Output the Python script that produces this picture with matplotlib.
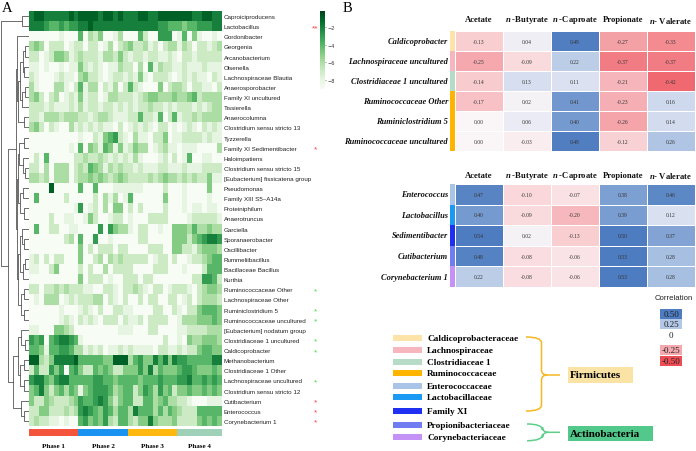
import matplotlib

matplotlib.use("Agg")
import matplotlib.pyplot as plt
import numpy as np
from matplotlib.colors import LinearSegmentedColormap
from matplotlib.patches import Rectangle, PathPatch
from matplotlib.path import Path

plt.rcParams["mathtext.fontset"] = "custom"
plt.rcParams["mathtext.it"] = "Liberation Serif:italic:bold"
plt.rcParams["mathtext.rm"] = "Liberation Serif:bold"

W, H = 696, 452
SERIF = "Liberation Serif"
SANS = "Liberation Sans"

# ---------------- panel A data ----------------
genera = [
    "Caproiciproducens", "Lactobacillus", "Gordonibacter", "Georgenia", "Arcanobacterium",
    "Olsenella", "Lachnospiraceae Blautia", "Anaerosporobacter", "Family XI uncultured",
    "Tissierella", "Anaerocolumna", "Clostridium sensu stricto 13", "Tyzzerella",
    "Family XI Sedimentibacter", "Haloimpatiens", "Clostridium sensu stricto 15",
    "[Eubacterium] fissicatena group", "Pseudomonas", "Family XIII S5\u2013A14a",
    "Proteiniphilum", "Anaerotruncus", "Garciella", "Sporanaerobacter", "Oscillibacter",
    "Rummeliibacillus", "Bacillaceae Bacillus", "Kurthia", "Ruminococcaceae Other",
    "Lachnospiraceae Other", "Ruminiclostridium 5", "Ruminococcaceae uncultured",
    "[Eubacterium] nodatum group", "Clostridiaceae 1 uncultured", "Caldicoprobacter",
    "Methanobacterium", "Clostridiaceae 1 Other", "Lachnospiraceae uncultured",
    "Clostridium sensu stricto 12", "Cutibacterium", "Enterococcus", "Corynebacterium 1",
]

# log abundance per sample, one digit per sample: value = digit - 9
abundance_rows = [
    "7887777787 8888788787 7788778888 888778877",
    "7776556566 7787777777 7777776655 545566677",
    "0000001000 5032400130 0052006660 150410010",
    "3430222012 2022013023 4223120233 132022123",
    "2201244312 3222133242 1221221121 022122222",
    "1101001011 4212101132 2030513221 121112111",
    "2100012110 3422101221 2141022210 121211021",
    "3100033102 5133021302 5210004023 320221102",
    "3420230121 4122013322 2123443334 334523333",
    "2221211121 3122122121 2122322121 222121233",
    "2213332333 2212332111 2252215025 122323333",
    "3420210031 2121211020 1212102201 012102121",
    "0000000000 1002145621 0311022401 122221211",
    "0000000010 5043154141 2433012311 011100003",
    "0205000002 2322321212 1310001202 015001100",
    "2203033302 3254313232 2121112211 121112222",
    "3323033302 3343432343 2222323433 232322411",
    "0000800000 5005000111 1110000200 010000400",
    "0500000200 0002031301 5000000400 010000100",
    "0000000001 6012030440 2020000200 010110110",
    "0000200110 0142001220 1000222200 001222221",
    "0500220011 0000606433 1022001004 443533433",
    "0000000230 5006001000 0022000004 442456776",
    "0000000000 4020222022 0000222004 422134443",
    "1202022000 4002303232 2222012202 001223455",
    "1100240000 2020030222 2000022200 010002555",
    "0000000000 4022201002 2202200000 000226652",
    "2202232322 2110022102 2321022012 221023443",
    "0103330121 2223302102 0020220022 012023332",
    "0000001000 1210200221 1000022002 102245554",
    "0000001210 2121022202 1120222200 133344454",
    "1100044320 0000000011 1000220000 112222333",
    "6560567765 1000000000 0000000200 104334443",
    "5541556653 3121201121 2111102211 212245544",
    "8832477778 5555544888 3564475747 665555577",
    "2522646056 4225454224 4464735444 566544454",
    "6775467755 5556655455 5545556555 667556565",
    "4574245354 1456665345 5246536452 445445454",
    "4224322234 6556764245 5225534533 221000111",
    "2244222323 6765465355 3755535354 322255555",
    "2322110100 5645463255 3244743334 222245454",
]

red, green = "#ff3b3b", "#3ddc3d"
marks = {1: ("**", red), 13: ("*", red), 27: ("*", green), 29: ("*", green),
         30: ("*", green), 32: ("*", green), 33: ("*", green), 36: ("*", green),
         38: ("*", red), 39: ("*", red), 40: ("*", red)}

# dendrogram: (height, left, right), leaves are row indices
tree = (28, (7, 0, 1),
        (21,
         (13, (12, 2, (10.5, (9, (6, (4, 3, 4), (4.5, 5, 6)), (6.5, (3.5, 7, 8), 9)), (5, 10, 11))),
          (12, (11, (9.5, (5, 12, 13), (6, 14, (4, 15, 16))), (8.5, (6, 17, 18), (5, 19, 20))),
           (10.5, (9, (7, 21, (5, 22, 23)), (6, (4, 24, 25), 26)), (8, (5, 27, 28), (4.5, 29, 30))))),
         (16, (11, (8, 31, (4, 32, 33)), (8.5, (5, 34, 35), (4.5, 36, 37))), (7.5, 38, (4.5, 39, 40)))))

phases = ["Phase 1", "Phase 2", "Phase 3", "Phase 4"]
phase_sizes = [10, 10, 10, 9]
phase_colors = ["#f4533c", "#1a92f0", "#ffb80d", "#9fd1b9"]

# ---------------- panel B data ----------------
acids = [r"Acetate", r"$n$ -Butyrate", r"$n$ -Caproate", r"Propionate", r"$n$- Valerate"]

top_taxa = ["Caldicoprobacter", "Lachnospiraceae uncultured", "Clostridiaceae 1 uncultured",
            "Ruminococcaceae Other", "Ruminiclostridium 5", "Ruminococcaceae uncultured"]
top_corr = [
    [-0.13, 0.04, 0.49, -0.27, -0.33],
    [-0.25, -0.09, 0.22, -0.37, -0.37],
    [-0.14, 0.13, 0.11, -0.21, -0.42],
    [-0.17, 0.02, 0.41, -0.23, 0.16],
    [0.00, 0.06, 0.40, -0.26, 0.14],
    [0.00, -0.03, 0.49, -0.12, 0.26],
]
top_family = [0, 1, 2, 3, 3, 3]

bottom_taxa = ["Enterococcus", "Lactobacillus", "Sedimentibacter", "Cutibacterium", "Corynebacterium 1"]
bottom_corr = [
    [0.47, -0.10, -0.07, 0.38, 0.46],
    [0.40, -0.09, -0.20, 0.39, 0.12],
    [0.54, 0.02, -0.13, 0.50, 0.37],
    [0.48, -0.08, -0.06, 0.53, 0.28],
    [0.22, -0.08, -0.06, 0.53, 0.28],
]
bottom_family = [4, 5, 6, 7, 8]

families = ["Caldicoprobacteraceae", "Lachnospiraceae", "Clostridiaceae 1", "Ruminococcaceae",
            "Enterococcaceae", "Lactobacillaceae", "Family XI", "Propionibacteriaceae",
            "Corynebacteriaceae"]
family_colors = ["#fde3a7", "#f7b5bd", "#b6dcc7", "#ffb400", "#a9c4e7", "#1a9af5",
                 "#1f30f2", "#6f7cf2", "#c491f7"]

legend_ticks = [0.50, 0.25, 0, -0.25, -0.50]


def rect(x0, y0, x1, y1):
    return [x0 / W, 1 - y1 / H, (x1 - x0) / W, (y1 - y0) / H]


fig = plt.figure(figsize=(W / 100, H / 100), dpi=100)

# heatmap
values = np.array([[int(c) - 9 for c in r.replace(" ", "")] for r in abundance_rows], dtype=float)
n_rows, n_cols = values.shape
ax_h = fig.add_axes(rect(29, 12, 222, 427))
im = ax_h.imshow(values, cmap="Greens", vmin=-9, vmax=-0.2, aspect="auto", interpolation="nearest")
ax_h.set_xticks([])
ax_h.set_yticks(range(n_rows))
ax_h.set_yticklabels(genera, fontsize=4.5, family=SANS, color="#222222")
ax_h.yaxis.tick_right()
ax_h.tick_params(axis="y", length=0, pad=1.2)
for s in ax_h.spines.values():
    s.set_visible(False)

# dendrogram
ax_d = fig.add_axes(rect(0, 12, 29, 427))


def draw_tree(ax, node):
    if isinstance(node, int):
        return float(node), 0.0
    h, left, right = node
    yl, hl = draw_tree(ax, left)
    yr, hr = draw_tree(ax, right)
    ax.plot([hl, h, h, hr], [yl, yl, yr, yr], color="#555555", lw=0.6)
    return (yl + yr) / 2, h


draw_tree(ax_d, tree)
ax_d.set_xlim(28.6, 0)
ax_d.set_ylim(n_rows - 0.5, -0.5)
ax_d.axis("off")

# colorbar
cax = fig.add_axes(rect(320, 12, 325, 90))
cb = fig.colorbar(im, cax=cax, ticks=[-2, -4, -6, -8])
cb.outline.set_visible(False)
cax.tick_params(labelsize=3.6, length=1, width=0.4, pad=1, colors="#333333")

# phase bar
ax_p = fig.add_axes(rect(29, 430, 222, 437))
starts = np.concatenate([[0], np.cumsum(phase_sizes)[:-1]])
ax_p.barh(0, phase_sizes, left=starts, height=1, color=phase_colors)
ax_p.set_xlim(0, n_cols)
ax_p.set_ylim(-0.5, 0.5)
ax_p.axis("off")

# correlation tables
corr_cmap = LinearSegmentedColormap.from_list(
    "corr", [(0, "#ee4c55"), (0.25, "#f5a9ae"), (0.5, "#fbf6f8"), (0.75, "#b4c8e6"), (1, "#4d7cc0")])


def draw_table(box, data, taxa, fam, header_y):
    x0, y0, x1, y1 = box
    ax = fig.add_axes(rect(x0, y0, x1, y1))
    arr = np.array(data)
    ax.pcolormesh(arr, cmap=corr_cmap, vmin=-0.5, vmax=0.5, edgecolors="white", linewidth=0.4)
    ax.set_xlim(0, arr.shape[1])
    ax.set_ylim(arr.shape[0], 0)
    ax.axis("off")
    for i in range(arr.shape[0]):
        for j in range(arr.shape[1]):
            ax.text(j + 0.5, i + 0.5, f"{arr[i, j]:.2f}", ha="center", va="center",
                    fontsize=4, family=SERIF, color="#333333")
    rh = (y1 - y0) / arr.shape[0]
    cw = (x1 - x0) / arr.shape[1]
    for i, name in enumerate(taxa):
        yc = y0 + (i + 0.5) * rh
        fig.text((x0 - 7) / W, 1 - yc / H, name, ha="right", va="center", fontsize=6,
                 family=SERIF, style="italic", weight="bold", color="#111111")
        fig.add_artist(Rectangle(((x0 - 5) / W, 1 - (y0 + (i + 1) * rh) / H), 4.5 / W, rh / H,
                                 transform=fig.transFigure, color=family_colors[fam[i]], lw=0))
    for j, name in enumerate(acids):
        fig.text((x0 + (j + 0.5) * cw) / W, 1 - header_y / H, name, ha="center", va="center",
                 fontsize=6.2, family=SERIF, weight="bold", color="#111111")


draw_table((455, 32, 695, 152), top_corr, top_taxa, top_family, 20.5)
draw_table((455, 185, 695, 288), bottom_corr, bottom_taxa, bottom_family, 176)

# overlay in pixel coordinates
ax_o = fig.add_axes([0, 0, 1, 1])
ax_o.set_xlim(0, W)
ax_o.set_ylim(H, 0)
ax_o.axis("off")

ax_o.text(2, 8, "A", fontsize=10.5, family=SERIF, va="center", ha="left")
ax_o.text(343, 8, "B", fontsize=10.5, family=SERIF, va="center", ha="left")

row_h = (427 - 12) / n_rows
for i, (sym, col) in marks.items():
    ax_o.text(315.5, 12 + (i + 0.5) * row_h + 1.4, sym, color=col, fontsize=6,
              ha="center", va="center", family=SANS)

col_w = (222 - 29) / n_cols
for name, st, sz in zip(phases, starts, phase_sizes):
    ax_o.text(29 + (st + sz / 2) * col_w, 447, name, fontsize=5, family=SERIF, weight="bold",
              ha="center", va="center")

# correlation legend
ax_o.text(674, 299, "Correlation", fontsize=5.6, family=SANS, ha="center", va="center", color="#222222")
leg_y = [315, 325, 336.5, 351, 362]
for t, yc in zip(legend_ticks, leg_y):
    if t != 0:
        ax_o.add_patch(Rectangle((660, yc - 5.2), 22, 10.4, color=corr_cmap((t + 0.5) / 1.0), lw=0))
    ax_o.text(671, yc, "0" if t == 0 else f"{t:.2f}", fontsize=6.5, family=SERIF,
              ha="center", va="center", color="#222222")

# family legend
fam_y = [339.3, 351, 362.7, 374.3, 386.7, 398.3, 412.3, 426, 438.3]
for name, col, yc in zip(families, family_colors, fam_y):
    ax_o.add_patch(Rectangle((393, yc - 3), 29, 6, color=col, lw=0))
    ax_o.text(427, yc, name, fontsize=6.7, family=SERIF, weight="bold", ha="left", va="center")


def brace(x_arm, x_mid, y_top, y_tip, y_bot, x_tip, color):
    C3, L, M = Path.CURVE3, Path.LINETO, Path.MOVETO
    upper = Path([(x_arm, y_top), (x_mid, y_top), (x_mid, y_top + 6), (x_mid, y_tip - 5),
                  (x_mid, y_tip), (x_mid + 6, y_tip), (x_tip, y_tip)],
                 [M, C3, C3, L, C3, C3, L])
    lower = Path([(x_mid + 6, y_tip), (x_mid, y_tip), (x_mid, y_tip + 5), (x_mid, y_bot - 6),
                  (x_mid, y_bot), (x_arm, y_bot)],
                 [M, C3, C3, L, C3, C3])
    for p in (upper, lower):
        ax_o.add_patch(PathPatch(p, fc="none", ec=color, lw=1.1))


brace(526, 541.5, 338, 376, 412, 560, "#f5b820")
brace(527, 542.5, 425, 433.3, 441.7, 560, "#5dcf8a")

ax_o.add_patch(Rectangle((568, 368), 65, 15.5, color="#fbe3a5", lw=0))
ax_o.text(570, 376, "Firmicutes", fontsize=8, family=SERIF, weight="bold", ha="left", va="center")
ax_o.add_patch(Rectangle((568, 426.5), 85, 15.5, color="#52c98a", lw=0))
ax_o.text(570, 434.3, "Actinobacteria", fontsize=8, family=SERIF, weight="bold", ha="left", va="center")

fig.savefig("out.png", dpi=100)
